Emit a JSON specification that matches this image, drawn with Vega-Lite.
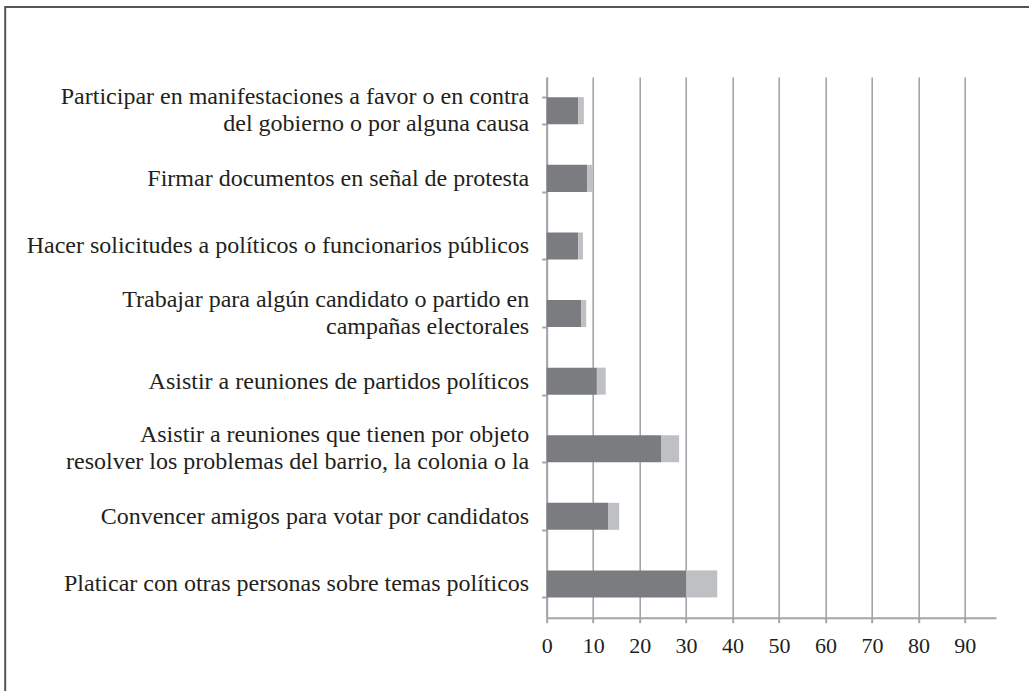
{
  "$schema": "https://vega.github.io/schema/vega-lite/v6.json",
  "width": 449.3,
  "height": 540.7,
  "autosize": {"type": "none"},
  "padding": {"left": 546.7, "top": 77, "right": 33, "bottom": 73.3},
  "background": "white",
  "config": {
    "view": {"stroke": null},
    "font": "Liberation Serif",
    "legend": {"strokeWidth": 2},
    "axis": {
      "labelFont": "Liberation Serif",
      "labelColor": "#231f20",
      "domainColor": "#a5a5a8",
      "tickColor": "#a5a5a8",
      "gridColor": "#a5a5a8",
      "domainWidth": 2,
      "tickWidth": 2,
      "gridWidth": 1.6,
      "tickSize": 5
    }
  },
  "data": {
    "values": [
      {"actividad": "Participar en manifestaciones a favor o en contra|del gobierno o por alguna causa", "serie": "A", "orden": 1, "valor": 6.8},
      {"actividad": "Participar en manifestaciones a favor o en contra|del gobierno o por alguna causa", "serie": "B", "orden": 2, "valor": 1.2},
      {"actividad": "Firmar documentos en señal de protesta", "serie": "A", "orden": 1, "valor": 8.7},
      {"actividad": "Firmar documentos en señal de protesta", "serie": "B", "orden": 2, "valor": 1.2},
      {"actividad": "Hacer solicitudes a políticos o funcionarios públicos", "serie": "A", "orden": 1, "valor": 6.8},
      {"actividad": "Hacer solicitudes a políticos o funcionarios públicos", "serie": "B", "orden": 2, "valor": 1.0},
      {"actividad": "Trabajar para algún candidato o partido en|campañas electorales", "serie": "A", "orden": 1, "valor": 7.4},
      {"actividad": "Trabajar para algún candidato o partido en|campañas electorales", "serie": "B", "orden": 2, "valor": 1.1},
      {"actividad": "Asistir a reuniones de partidos políticos", "serie": "A", "orden": 1, "valor": 10.8},
      {"actividad": "Asistir a reuniones de partidos políticos", "serie": "B", "orden": 2, "valor": 1.9},
      {"actividad": "Asistir a reuniones que tienen por objeto|resolver los problemas del barrio, la colonia o la", "serie": "A", "orden": 1, "valor": 24.6},
      {"actividad": "Asistir a reuniones que tienen por objeto|resolver los problemas del barrio, la colonia o la", "serie": "B", "orden": 2, "valor": 3.9},
      {"actividad": "Convencer amigos para votar por candidatos", "serie": "A", "orden": 1, "valor": 13.2},
      {"actividad": "Convencer amigos para votar por candidatos", "serie": "B", "orden": 2, "valor": 2.4},
      {"actividad": "Platicar con otras personas sobre temas políticos", "serie": "A", "orden": 1, "valor": 30.0},
      {"actividad": "Platicar con otras personas sobre temas políticos", "serie": "B", "orden": 2, "valor": 6.7}
    ]
  },
  "layer": [
    {
      "mark": {"type": "bar"},
      "encoding": {
        "y": {
          "field": "actividad",
          "type": "nominal",
          "sort": null,
          "scale": {"paddingInner": 0.6, "paddingOuter": 0.3},
          "axis": {
            "orient": "left",
            "title": null,
            "tickBand": "extent",
            "labelExpr": "indexof(datum.label, '|') >= 0 ? '' : datum.label",
            "labelFontSize": 24,
            "labelLimit": 700,
            "labelPadding": 13,
            "labelAlign": "right",
            "labelBaseline": "middle"
          }
        },
        "x": {
          "field": "valor",
          "type": "quantitative",
          "stack": "zero",
          "scale": {"domain": [0, 96.7], "nice": false, "zero": true},
          "axis": {
            "title": null,
            "values": [0, 10, 20, 30, 40, 50, 60, 70, 80, 90],
            "grid": true,
            "labelFontSize": 22,
            "labelPadding": 13,
            "labelFlush": false
          }
        },
        "color": {
          "field": "serie",
          "type": "nominal",
          "scale": {"domain": ["A", "B"], "range": ["#7b7c80", "#bfc0c4"]},
          "legend": {
            "orient": "none",
            "legendX": -541.5,
            "legendY": -70,
            "title": null,
            "strokeColor": "#555555",
            "padding": 1000,
            "symbolOpacity": 0,
            "symbolSize": 0,
            "labelExpr": "''"
          }
        },
        "order": {"field": "orden", "type": "quantitative"}
      }
    },
    {
      "mark": {"type": "bar", "opacity": 0},
      "encoding": {
        "y": {
          "field": "actividad",
          "type": "nominal",
          "sort": null,
          "axis": {
            "orient": "left",
            "title": null,
            "domain": false,
            "tickOpacity": 0,
            "labelExpr": "indexof(datum.label, '|') >= 0 ? split(datum.label, '|') : ''",
            "labelFontSize": 24,
            "labelLineHeight": 27,
            "labelLimit": 700,
            "labelPadding": 13,
            "labelAlign": "right",
            "labelBaseline": "middle",
            "labelOffset": -13.5
          }
        }
      }
    }
  ],
  "resolve": {"axis": {"y": "independent"}}
}
